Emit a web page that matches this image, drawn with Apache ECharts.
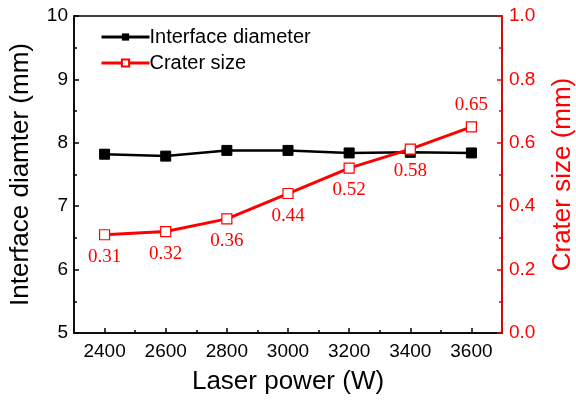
<!DOCTYPE html>
<html><head><meta charset="utf-8">
<script src="https://cdn.jsdelivr.net/npm/echarts@6/dist/echarts.min.js"></script>
<style>html,body{margin:0;padding:0;background:#fff}#c{width:576px;height:401px}</style>
</head><body><div id="c"></div>
<script>
const laserPower = [2400, 2600, 2800, 3000, 3200, 3400, 3600];
const interfaceDiameter = [7.82, 7.79, 7.88, 7.88, 7.84, 7.85, 7.84];
const craterSize = [0.31, 0.32, 0.36, 0.44, 0.52, 0.58, 0.65];
const xMajorTicks = [2400, 2600, 2800, 3000, 3200, 3400, 3600];
const xMinorTicks = [2500, 2700, 2900, 3100, 3300, 3500];

const F = 'Liberation Sans, Arial, sans-serif';
const chart = echarts.init(document.getElementById('c'), null, {renderer: 'canvas'});
chart.setOption({
  animation: false,
  backgroundColor: '#fff',
  grid: {left: 74, right: 74, top: 16, bottom: 68, containLabel: false, outerBoundsMode: 'none',
    show: true, borderColor: '#000', borderWidth: 1.5, backgroundColor: 'transparent'},
  legend: {
    left: 95, top: 22, orient: 'vertical', itemGap: 6, itemWidth: 48, itemHeight: 9,
    lineStyle: {width: 3},
    textStyle: {fontFamily: F, fontSize: 20, color: '#000', padding: [0, 0, 0, -5]},
    data: ['Interface diameter', 'Crater size']
  },
  xAxis: [{
    type: 'value', min: 2300, max: 3700,
    name: 'Laser power (W)', nameLocation: 'middle', nameGap: 36,
    nameTextStyle: {fontFamily: F, fontSize: 26, color: '#000'},
    axisLine: {lineStyle: {color: '#000', width: 1.5}},
    axisTick: {inside: true, length: 5, lineStyle: {color: '#000', width: 1.5}, customValues: xMajorTicks},
    axisLabel: {fontFamily: F, fontSize: 19, color: '#000', margin: 9, customValues: xMajorTicks, formatter: v => String(v)},
    splitLine: {show: false}
  }, {
    type: 'value', min: 2300, max: 3700, position: 'bottom',
    axisLine: {show: false},
    axisTick: {inside: true, length: 3, lineStyle: {color: '#000', width: 1.5}, customValues: xMinorTicks},
    axisLabel: {show: false, customValues: xMinorTicks},
    splitLine: {show: false}
  }],
  yAxis: [{
    type: 'value', min: 5, max: 10, interval: 1, position: 'left',
    name: 'Interface diamter (mm)', nameLocation: 'middle', nameGap: 40,
    nameTextStyle: {fontFamily: F, fontSize: 26, color: '#000'},
    axisLine: {show: true, lineStyle: {color: '#000', width: 1.5}},
    axisTick: {show: true, inside: true, length: 5, lineStyle: {color: '#000', width: 1.5}},
    minorTick: {show: true, splitNumber: 2, length: 3, lineStyle: {color: '#000', width: 1.5}},
    axisLabel: {fontFamily: F, fontSize: 19, color: '#000', margin: 6},
    splitLine: {show: false}
  }, {
    type: 'value', min: 0, max: 1, interval: 0.2, position: 'right',
    name: 'Crater size (mm)', nameLocation: 'middle', nameGap: 48,
    nameTextStyle: {fontFamily: F, fontSize: 26, color: '#ff0000'},
    axisLine: {show: true, lineStyle: {color: '#ff0000', width: 1.5}},
    axisTick: {show: true, inside: true, length: 5, lineStyle: {color: '#ff0000', width: 1.5}},
    minorTick: {show: true, splitNumber: 2, length: 3, lineStyle: {color: '#ff0000', width: 1.5}},
    axisLabel: {fontFamily: F, fontSize: 19, color: '#ff0000', margin: 7, formatter: v => v.toFixed(1)},
    splitLine: {show: false}
  }],
  series: [{
    name: 'Interface diameter', type: 'line', xAxisIndex: 0, yAxisIndex: 0,
    data: laserPower.map((x, i) => [x, interfaceDiameter[i]]),
    symbol: 'rect', symbolSize: 10,
    lineStyle: {color: '#000', width: 2.5},
    itemStyle: {color: '#000', borderColor: '#000'}
  }, {
    name: 'Crater size', type: 'line', xAxisIndex: 0, yAxisIndex: 1,
    data: laserPower.map((x, i) => ({
      value: [x, craterSize[i]],
      label: {position: i === laserPower.length - 1 ? 'top' : 'bottom'}
    })),
    symbol: 'rect', symbolSize: 10, showAllSymbol: true,
    lineStyle: {color: '#ff0000', width: 3},
    itemStyle: {color: '#fff', borderColor: '#ff0000', borderWidth: 1.2},
    label: {show: true, distance: 7, fontFamily: 'Liberation Serif, Times New Roman, serif', fontSize: 19, color: '#ff0000',
      formatter: p => p.value[1].toFixed(2)},
    z: 3
  }]
});
</script></body></html>
